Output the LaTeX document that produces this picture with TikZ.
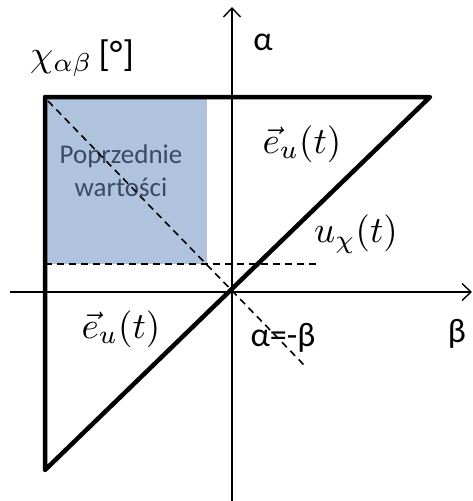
\documentclass[tikz,border=0pt]{standalone}
\usepackage{fontspec}
\setmainfont{Carlito}
\usetikzlibrary{arrows.meta}
\definecolor{prevfill}{HTML}{AFC3DF}
\definecolor{prevtext}{HTML}{3A4A64}
\tikzset{
  axis/.style={line width=1.6pt},
  bold/.style={line width=4.5pt, line join=round, line cap=round},
  guide/.style={line width=1.6pt, dash pattern=on 7pt off 5pt},
  lbl/.style={inner sep=0pt, font=\fontsize{34}{40}\selectfont},
  mlbl/.style={inner sep=0pt, scale=3.7, transform shape},
}
\begin{document}
\begin{tikzpicture}[x=1pt,y=-1pt]
\useasboundingbox (0,0) rectangle (473,501);
\coordinate (O) at (232,292);
\coordinate (TL) at (45,97);
\coordinate (TR) at (430,97);
\coordinate (BL) at (45,470);
\coordinate (RB) at (207,264);
\coordinate (HE) at (317,264);
\coordinate (HS) at (45,264);
\coordinate (DS) at (48,101);
\coordinate (DE) at (305,366);
\coordinate (AxT) at (232,7);
\coordinate (AxB) at (232,501);
\coordinate (AxL) at (10,292);
\coordinate (AxR) at (472,292);
% region of previous values
\fill[prevfill] (TL) rectangle (RB);
\node[align=center, text=prevtext, inner sep=0pt, font=\fontsize{27}{33}\selectfont] (prev) at (121,171) {Poprzednie\\ wartości};
% dashed guides
\draw[guide] (HS) -- (HE);
\draw[guide] (DS) -- (DE);
% axes
\draw[axis, -{Straight Barb[length=9pt,width=17pt,line width=1.4pt]}] (AxB) -- (AxT);
\draw[axis, -{Straight Barb[length=9pt,width=17pt,line width=1.4pt]}] (AxL) -- (AxR);
% bold triangle
\draw[bold] (TR) -- (TL) -- (BL) -- cycle;
% labels
\node[lbl] (alpha) at (263,42) {α};
\node[lbl] (beta) at (457,334) {β};
\node[lbl] (diag) at (283,338) {α=-β};
\node[mlbl] (chi) at (82,58) {$\chi_{\alpha\beta}\,$[°]};
\node[mlbl] (eu1) at (302,144) {$\vec{e}_u(t)$};
\node[mlbl] (eu2) at (121,329) {$\vec{e}_u(t)$};
\node[mlbl] (ux) at (356,234) {$u_\chi(t)$};
\end{tikzpicture}
\end{document}
